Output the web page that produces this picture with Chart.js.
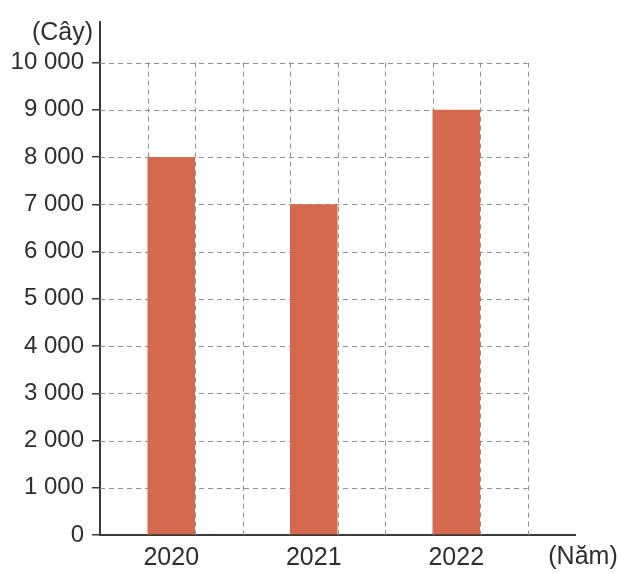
<!DOCTYPE html>
<html>
<head>
<meta charset="utf-8">
<script src="https://cdn.jsdelivr.net/npm/chart.js@4"></script>
<style>
  html, body { margin: 0; padding: 0; background: #ffffff; }
  #wrap { width: 625px; height: 573px; }
</style>
</head>
<body>
<div id="wrap"><canvas id="c" width="625" height="573"></canvas></div>
<script>
// Số cây trồng được qua các năm
const years = ['2020', '2021', '2022'];
const trees = [8000, 7000, 9000];
const yTickValues = [0, 1000, 2000, 3000, 4000, 5000, 6000, 7000, 8000, 9000, 10000];
const yUnit = '(Cây)';
const xUnit = '(Năm)';

const FONT = '"Liberation Sans", Arial, sans-serif';
const TEXT = '#2e2e2e';
const AXIS = '#3a3a3a';
const BAR = '#D4694F';

// Each year occupies three grid cells; its bar sits in the middle one.
const CELLS_PER_YEAR = 3;
const GRID_COLS = 9;
const yearPos = i => CELLS_PER_YEAR * i + 1.5;
const fmt = v => String(v).replace(/\B(?=(\d{3})+(?!\d))/g, ' ');

// Dashed grid limited to the area 0..9 cells × 0..10 000 trees
const dashedGrid = {
  id: 'dashedGrid',
  beforeDatasetsDraw(chart) {
    const { ctx, scales: { x, y } } = chart;
    const gridTop = yTickValues[yTickValues.length - 1];
    ctx.save();
    ctx.strokeStyle = '#8f8f8f';
    ctx.lineWidth = 1;
    ctx.setLineDash([5, 4]);
    const x0 = x.getPixelForValue(0), x1 = x.getPixelForValue(GRID_COLS);
    const y0 = y.getPixelForValue(0), y1 = y.getPixelForValue(gridTop);
    yTickValues.slice(1).forEach(v => {
      const py = Math.round(y.getPixelForValue(v)) + 0.5;
      ctx.beginPath(); ctx.moveTo(x0, py); ctx.lineTo(x1, py); ctx.stroke();
    });
    for (let c = 1; c <= GRID_COLS; c++) {
      const px = Math.round(x.getPixelForValue(c)) + 0.5;
      ctx.beginPath(); ctx.moveTo(px, y1); ctx.lineTo(px, y0); ctx.stroke();
    }
    ctx.restore();
  }
};

// Unit captions at the ends of both axes
const unitLabels = {
  id: 'unitLabels',
  afterDraw(chart) {
    const { ctx, chartArea } = chart;
    ctx.save();
    ctx.fillStyle = TEXT;
    ctx.font = '25px ' + FONT;
    ctx.textBaseline = 'middle';
    ctx.textAlign = 'right';
    ctx.fillText(yUnit, chartArea.left - 7, chartArea.top + 11);
    ctx.textAlign = 'center';
    ctx.fillText(xUnit, chartArea.right + 8, chartArea.bottom + 22);
    ctx.restore();
  }
};

new Chart(document.getElementById('c'), {
  type: 'bar',
  data: {
    datasets: [{
      data: years.map((yr, i) => ({ x: yearPos(i), y: trees[i] })),
      backgroundColor: BAR,
      borderWidth: 0,
      categoryPercentage: 1,
      barPercentage: 1 / CELLS_PER_YEAR
    }]
  },
  options: {
    responsive: false,
    animation: false,
    layout: { padding: { top: 20, right: 50, left: 0, bottom: 0 } },
    plugins: { legend: { display: false }, tooltip: { enabled: false } },
    scales: {
      x: {
        type: 'linear',
        min: 0,
        max: 10,
        offset: false,
        afterBuildTicks: s => { s.ticks = years.map((yr, i) => ({ value: yearPos(i) })); },
        afterFit: s => { s.height = 38; },
        ticks: {
          autoSkip: false,
          maxRotation: 0,
          padding: 8,
          color: TEXT,
          font: { family: FONT, size: 25 },
          callback: (v, i) => years[i]
        },
        grid: { display: false, drawTicks: false },
        border: { display: true, color: AXIS, width: 2 }
      },
      y: {
        type: 'linear',
        min: 0,
        max: 10850,
        afterBuildTicks: s => { s.ticks = yTickValues.map(v => ({ value: v })); },
        afterFit: s => { s.width = 100; },
        ticks: {
          padding: 8,
          color: TEXT,
          font: { family: FONT, size: 24 },
          callback: v => fmt(v)
        },
        grid: { display: true, drawOnChartArea: false, drawTicks: true, tickLength: 8, color: AXIS, tickColor: AXIS, tickWidth: 1.5, lineWidth: 1.5 },
        border: { display: true, color: AXIS, width: 2 }
      }
    }
  },
  plugins: [dashedGrid, unitLabels]
});
</script>
</body>
</html>
